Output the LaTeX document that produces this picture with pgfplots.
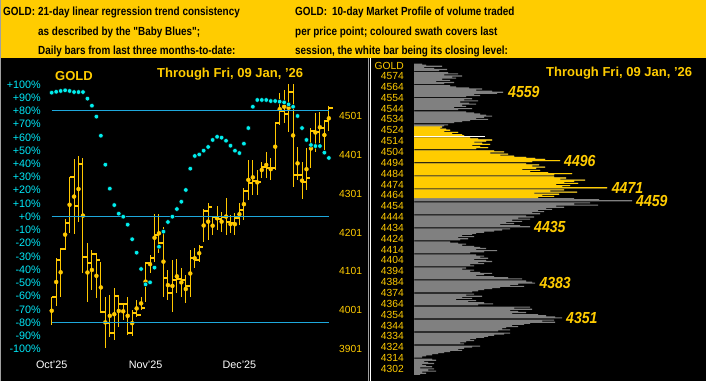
\documentclass[border=0pt]{standalone}
\usepackage{fontspec}
\setmainfont{Liberation Sans}
\newfontfamily\hdrfont[FakeStretch=0.84]{Liberation Sans}
\newfontfamily\pkfont[FakeStretch=0.88]{Liberation Sans}
\usepackage{pgfplots}
\pgfplotsset{compat=1.18}
\usepackage{pgfplotstable}
\definecolor{goldband}{HTML}{FFCC00}
\definecolor{gold}{HTML}{FFCC00}
\definecolor{barsgold}{HTML}{FFC800}
\definecolor{dotcyan}{HTML}{00EEEE}
\definecolor{labcyan}{HTML}{00E8F8}
\definecolor{hline}{HTML}{1EA8DC}
\definecolor{profgray}{HTML}{808080}
\definecolor{sepgray}{HTML}{A0A0A0}

\pgfdeclareplotmark{rtick}{\pgfpathmoveto{\pgfqpoint{0pt}{0pt}}\pgfpathlineto{\pgfqpoint{4pt}{0pt}}\pgfusepathqstroke}

% daily bars: index, high, low, close
\pgfplotstableread{
i H L C
0 4036 3963 4036
1 4135 4012 4130
2 4161 4036 4158
3 4235 4156 4226
4 4345 4200 4345
5 4390 4197 4269
6 4398 4228 4377
7 4393 4096 4139
8 4173 4023 4122
9 4156 4053 4145
10 4147 4032 4130
11 4126 3993 3997
12 4036 3903 3969
13 4040 3933 3943
14 4057 3924 4037
15 4040 3958 4017
16 4020 3976 4017
17 4036 3937 3941
18 4001 3934 3993
19 4027 3984 3989
20 4036 4001 4007
21 4126 4023 4123
22 4143 4096 4135
23 4249 4126 4195
24 4249 4149 4173
25 4216 4036 4085
26 4104 4027 4046
27 4130 3997 4079
28 4132 4044 4080
29 4109 4036 4079
30 4092 4019 4063
31 4156 4035 4135
32 4160 4109 4130
33 4169 4126 4163
34 4261 4177 4257
35 4276 4182 4266
36 4242 4195 4240
37 4268 4207 4235
38 4255 4203 4240
39 4289 4195 4229
40 4246 4199 4225
41 4250 4195 4238
42 4276 4220 4259
43 4315 4233 4309
44 4388 4285 4329
45 4388 4298 4334
46 4362 4298 4332
47 4383 4341 4370
48 4409 4341 4366
49 4392 4336 4368
50 4482 4362 4482
51 4559 4478 4515
52 4568 4482 4505
53 4583 4461 4562
54 4583 4319 4350
55 4422 4336 4350
56 4383 4286 4332
57 4418 4310 4342
58 4469 4366 4463
59 4508 4409 4461
60 4512 4432 4469
61 4491 4413 4489
62 4527 4463 4521
}\bars

% Baby Blues: index, trend consistency in percent
\pgfplotstableread{
i P
0 93.7
1 94.4
2 95.0
3 95.5
4 95.0
5 94.2
6 94.2
7 94.2
8 89.2
9 83.9
10 75.6
11 61.2
12 39.3
13 21.2
14 8.8
15 2.3
16 0.0
17 -6.0
18 -17.0
19 -27.2
20 -39.5
21 -51.1
22 -49.6
23 -38.5
24 -22.7
25 -11.3
26 -4.0
27 0.0
28 5.8
29 11.3
30 20.2
31 36.3
32 45.9
33 47.0
34 49.9
35 52.7
36 58.0
37 60.4
38 59.7
39 57.4
40 53.6
41 49.9
42 48.1
43 55.2
44 67.0
45 83.1
46 88.2
47 88.2
48 88.2
49 87.4
50 87.4
51 86.9
52 86.4
53 84.9
54 83.1
55 76.1
56 67.0
57 58.0
58 54.2
59 53.4
60 53.4
61 48.4
62 44.4
}\blues

% Market profile: price, length of volume bar
\pgfplotstableread{
p v
4585 8
4584 12
4583 28
4582 10
4581 20
4580 33
4579 25
4578 0
4577 34
4576 44
4575 30
4574 48
4573 38
4572 42
4571 28
4570 36
4569 22
4568 40
4567 30
4566 0
4565 36
4564 42
4563 55
4562 68
4561 62
4560 78
4559 89
4558 83
4557 60
4556 66
4555 52
4554 0
4553 58
4552 50
4551 64
4550 46
4549 55
4548 62
4547 48
4546 52
4545 40
4544 58
4543 44
4542 0
4541 52
4540 60
4539 66
4538 72
4537 78
4536 70
4535 62
4534 74
4533 56
4532 48
4531 40
4530 0
4529 34
4528 30
4527 28
4526 26
4525 32
4524 36
4523 30
4522 44
4521 38
4520 48
4519 50
4518 0
4517 56
4516 64
4515 78
4514 72
4513 60
4512 68
4511 76
4510 58
4509 66
4508 74
4507 62
4506 0
4505 80
4504 90
4503 76
4502 94
4501 86
4500 100
4499 112
4498 121
4497 131
4496 146
4495 118
4494 0
4493 112
4492 125
4491 118
4490 131
4489 122
4488 108
4487 126
4486 116
4485 134
4484 158
4483 140
4482 0
4481 140
4480 152
4479 146
4478 171
4477 160
4476 150
4475 164
4474 142
4473 156
4472 148
4471 193
4470 0
4469 150
4468 136
4467 163
4466 120
4465 145
4464 128
4463 140
4462 124
4461 160
4460 185
4459 218
4458 0
4457 176
4456 160
4455 184
4454 142
4453 150
4452 132
4451 138
4450 124
4449 130
4448 118
4447 126
4446 0
4445 112
4444 120
4443 104
4442 116
4441 98
4440 108
4439 92
4438 100
4437 86
4436 106
4435 116
4434 0
4433 96
4432 88
4431 80
4430 70
4429 62
4428 58
4427 48
4426 60
4425 44
4424 54
4423 46
4422 0
4421 36
4420 44
4419 52
4418 48
4417 60
4416 66
4415 72
4414 62
4413 83
4412 70
4411 56
4410 0
4409 62
4408 70
4407 66
4406 74
4405 60
4404 72
4403 78
4402 64
4401 70
4400 56
4399 60
4398 0
4397 52
4396 48
4395 60
4394 56
4393 66
4392 78
4391 70
4390 62
4389 80
4388 94
4387 108
4386 0
4385 112
4384 118
4383 121
4382 104
4381 96
4380 110
4379 86
4378 78
4377 70
4376 64
4375 58
4374 0
4373 60
4372 52
4371 68
4370 48
4369 58
4368 42
4367 62
4366 54
4365 70
4364 79
4363 64
4362 0
4361 116
4360 100
4359 118
4358 96
4357 104
4356 112
4355 98
4354 124
4353 132
4352 141
4351 148
4350 0
4349 140
4348 128
4347 141
4346 116
4345 110
4344 98
4343 104
4342 92
4341 88
4340 96
4339 84
4338 0
4337 96
4336 90
4335 80
4334 74
4333 70
4332 62
4331 56
4330 60
4329 52
4328 46
4327 50
4326 0
4325 66
4324 58
4323 50
4322 44
4321 48
4320 36
4319 30
4318 24
4317 18
4316 12
4315 8
4314 0
4313 18
4312 22
4311 10
4310 14
4309 20
4308 8
4307 12
4306 18
4305 6
4304 20
4303 14
4302 22
4301 8
4300 12
4299 6
}\profile

\begin{document}
\begin{tikzpicture}[x=1pt,y=1pt]
\fill[goldband] (0,0) rectangle (706,381);
\fill[black] (0,0) rectangle (706,322.7);
\draw[sepgray, line width=1pt] (368,0) -- (368,322.7);
\draw[white, line width=1pt] (370,0) -- (370,322.7);
\draw[sepgray, line width=1pt] (0.5,0) -- (0.5,381);

% header
\begin{scope}[every node/.style={inner sep=0pt, anchor=base west, font=\hdrfont\bfseries\fontsize{11.8}{13}\selectfont, text=black}]
\node at (3,381-15.5) {GOLD:};
\node at (38,381-15.5) {21-day linear regression trend consistency};
\node at (38,381-35.5) {as described by the "Baby Blues";};
\node at (38,381-55) {Daily bars from last three months-to-date:};
\node at (295,381-15.5) {GOLD:};
\node at (332,381-15.5) {10-day Market Profile of volume traded};
\node at (295,381-35.5) {per price point; coloured swath covers last};
\node at (295,381-55) {session, the white bar being its closing level:};
\end{scope}

\begin{scope}[every node/.style={inner sep=0pt, anchor=base west, font=\bfseries\fontsize{13}{15}\selectfont, text=gold}]
\node at (55,381-80.5) {GOLD};
\node at (157,381-77.5) {Through Fri, 09 Jan, '26};
\node at (546,381-76) {Through Fri, 09 Jan, '26};
\end{scope}

% left panel: price bars
\begin{axis}[
  scale only axis, width=292pt, height=296pt,
  at={(44pt,23pt)}, anchor=south west,
  xmin=-1.7226, xmax=63.602, ymin=3877.8, ymax=4640.06,
  axis line style={draw=none}, major tick length=0pt, clip=false,
  xtick=\empty,
  ytick={3901,4001,4101,4201,4301,4401,4501},
  yticklabels={3901,4001,4101,4201,4301,4401,4501},
  yticklabel pos=right,
  yticklabel style={anchor=west, inner sep=0pt, xshift=3pt, text=gold, font=\fontsize{10.3}{12}\selectfont},
]
\addplot[barsgold, only marks, mark=none,
  error bars/.cd, y dir=both, y explicit, error mark=none,
  error bar style={line width=1pt, barsgold, solid}]
  table[x=i, y expr={(\thisrow{H}+\thisrow{L})/2}, y error expr={(\thisrow{H}-\thisrow{L})/2}] {\bars};
\addplot[only marks, mark=rtick, mark options={line width=2pt, barsgold}] table[x=i, y=C] {\bars};
\end{axis}

% left panel: Baby Blues
\begin{axis}[
  scale only axis, width=292pt, height=296pt,
  at={(44pt,23pt)}, anchor=south west,
  xmin=-1.7226, xmax=63.602, ymin=-106.76, ymax=116.89,
  axis line style={draw=none}, major tick length=0pt, clip=false,
  xtick={0,21,42}, xticklabels={Oct'25,Nov'25,Dec'25},
  xticklabel style={anchor=north, inner sep=0pt, yshift=-3pt, text=white, font=\fontsize{10.8}{12}\selectfont},
  ytick={-100,-90,-80,-70,-60,-50,-40,-30,-20,-10,0,10,20,30,40,50,60,70,80,90,100},
  yticklabels={-100\%,-90\%,-80\%,-70\%,-60\%,-50\%,-40\%,-30\%,-20\%,-10\%,+0\%,+10\%,+20\%,+30\%,+40\%,+50\%,+60\%,+70\%,+80\%,+90\%,+100\%},
  yticklabel style={anchor=east, inner sep=0pt, xshift=-3pt, text=labcyan, font=\fontsize{10.8}{12}\selectfont},
]
\addplot[hline, line width=0.9pt] coordinates {(0,80) (62,80)};
\addplot[hline, line width=0.9pt] coordinates {(0,0) (62,0)};
\addplot[hline, line width=0.9pt] coordinates {(0,-80) (62,-80)};
\addplot[only marks, mark=*, mark size=2.3pt, mark options={draw=none, fill=dotcyan}] table[x=i, y=P] {\blues};
\end{axis}

% right panel: market profile
\begin{axis}[
  scale only axis, width=290pt, height=318pt,
  at={(414pt,3pt)}, anchor=south west,
  xmin=0, xmax=290, ymin=4295.6, ymax=4588.75,
  axis line style={draw=none}, major tick length=0pt, clip=false,
  xtick=\empty,
  ytick={4304,4314,4324,4334,4344,4354,4364,4374,4384,4394,4404,4414,4424,4434,4444,4454,4464,4474,4484,4494,4504,4514,4524,4534,4544,4554,4564,4574,4583.2},
  yticklabels={4302,4314,4324,4334,4344,4354,4364,4374,4384,4394,4404,4414,4424,4434,4444,4454,4464,4474,4484,4494,4504,4514,4524,4534,4544,4554,4564,4574,GOLD},
  yticklabel style={anchor=east, inner sep=0pt, xshift=-10pt, text=gold, font=\fontsize{10.3}{12}\selectfont},
]
\addplot[xbar, bar shift=0pt, bar width=1, draw=none, fill=profgray] table[x=v, y=p] {\profile};
\addplot[xbar, bar shift=0pt, bar width=1, draw=none, fill=gold, restrict y to domain=4461.5:4527.5] table[x=v, y=p] {\profile};
\addplot[xbar, bar shift=0pt, bar width=1, draw=none, fill=white] coordinates {(71,4518)};
\begin{scope}[every node/.style={inner sep=0pt, anchor=west, font=\pkfont\bfseries\itshape\fontsize{16}{18}\selectfont, text=gold}]
\node at (axis cs:94,4559) {4559};
\node at (axis cs:150,4496) {4496};
\node at (axis cs:197.7,4471) {4471};
\node at (axis cs:222,4459) {4459};
\node at (axis cs:120,4435) {4435};
\node at (axis cs:125.3,4383) {4383};
\node at (axis cs:152,4351) {4351};
\end{scope}
\end{axis}

\pgfresetboundingbox
\path[use as bounding box] (0,0) rectangle (706,381);
\end{tikzpicture}
\end{document}
